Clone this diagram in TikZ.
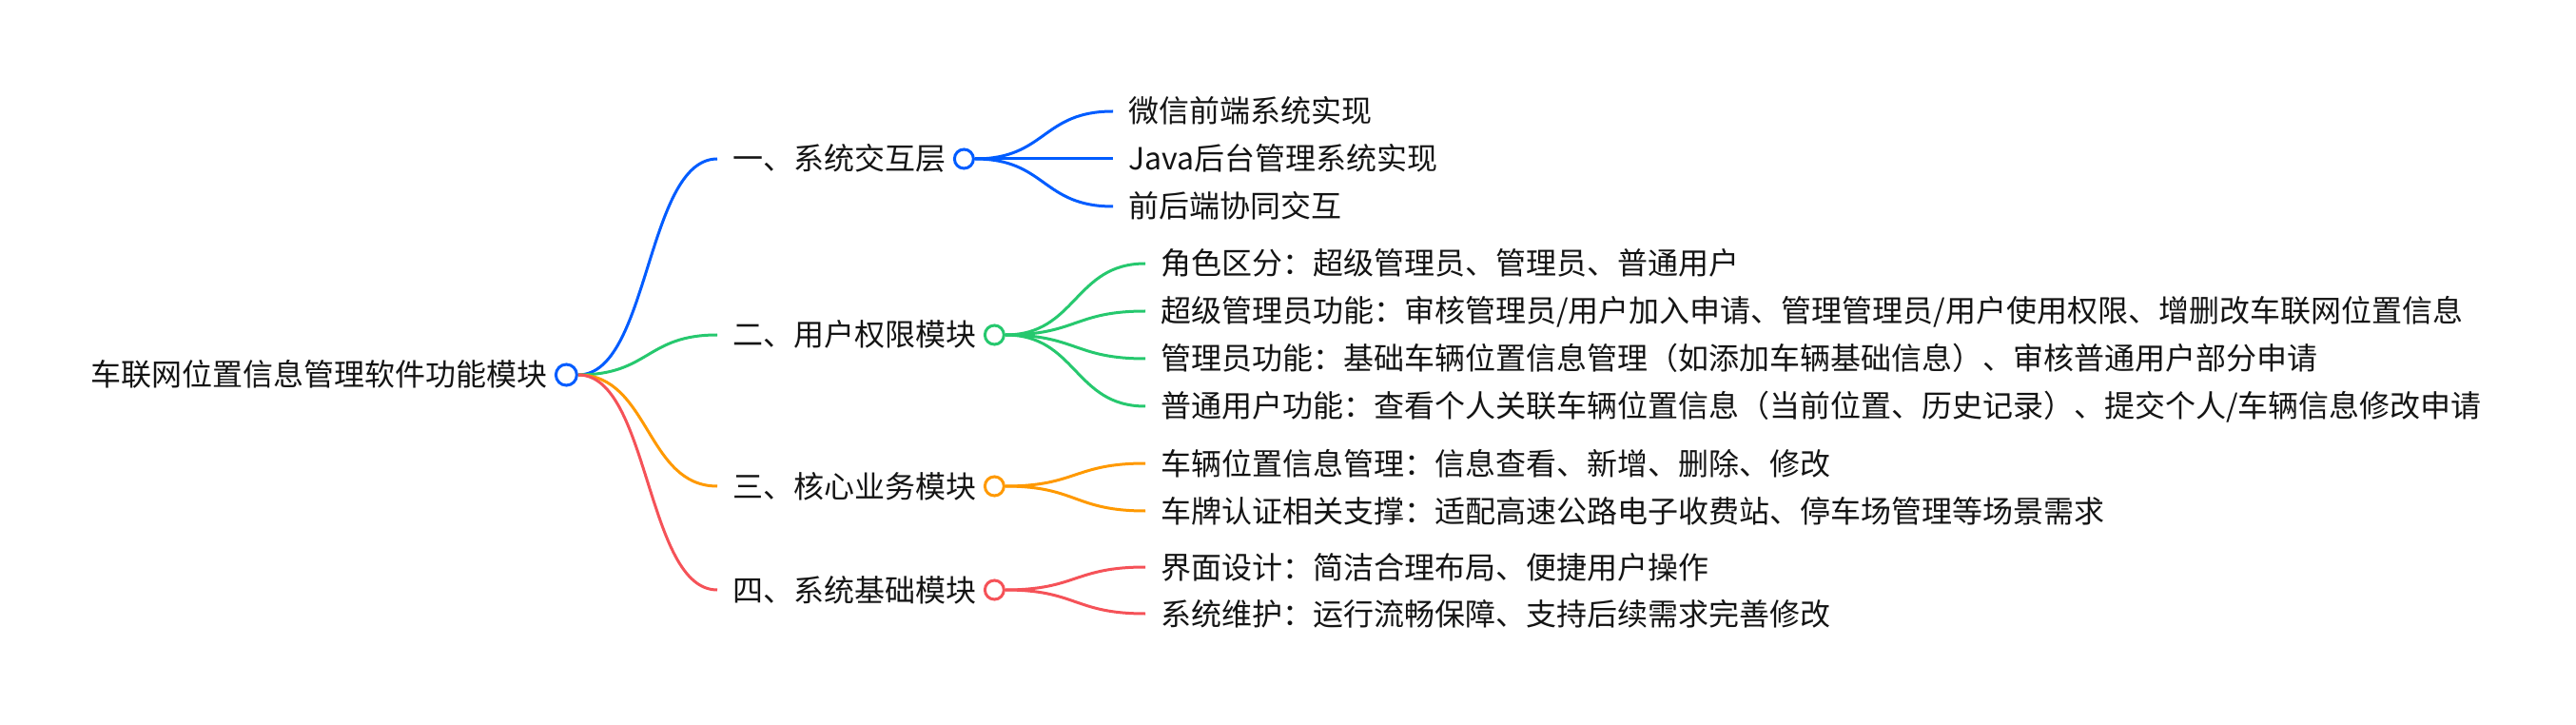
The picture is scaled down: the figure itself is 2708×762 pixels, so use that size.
\documentclass[tikz,border=0pt]{standalone}
\usepackage{fontspec}
\usepackage{tikz}
\usetikzlibrary{positioning}
\newfontfamily\cjk{Noto Sans CJK SC}
\definecolor{lanse}{RGB}{0,92,255}
\definecolor{lvse}{RGB}{38,200,110}
\definecolor{chengse}{RGB}{255,153,0}
\definecolor{hongse}{RGB}{245,82,88}
\definecolor{wenzi}{RGB}{20,20,20}

\begin{document}
\begin{tikzpicture}[x=0.75pt,y=0.75pt,yscale=-1,xscale=1,
  topic/.style={anchor=west,inner sep=0pt,text height=20pt,text depth=2pt,text=wenzi,font=\cjk\fontsize{24pt}{28pt}\selectfont},
  ring/.style={circle,draw=#1,fill=white,line width=2.25pt,minimum size=15pt,inner sep=0pt},
  branch/.style={to path={.. controls +(75,0) and +(-75,0) .. (\tikztotarget)}},
  wire/.style={draw=#1,line width=2.25pt}]
\useasboundingbox (0,0) rectangle (2708,762);

%Root
\node[topic] (root) at (95,394) {车联网位置信息管理软件功能模块};
\node[ring=lanse,minimum size=16.5pt,right=5.5pt of root] (rootdot) {};

%Level one
\node[topic] (jiaohu) at (770,167) {一、系统交互层};
\node[topic] (quanxian) at (770,352) {二、用户权限模块};
\node[topic] (yewu) at (770,511) {三、核心业务模块};
\node[topic] (jichu) at (770,620) {四、系统基础模块};
\node[ring=lanse,right=5.5pt of jiaohu] (jiaohudot) {};
\node[ring=lvse,right=5.5pt of quanxian] (quanxiandot) {};
\node[ring=chengse,right=5.5pt of yewu] (yewudot) {};
\node[ring=hongse,right=5.5pt of jichu] (jichudot) {};

%Level two
\node[topic] (jh1) at (1186,117) {微信前端系统实现};
\node[topic] (jh2) at (1186,167) {Java后台管理系统实现};
\node[topic] (jh3) at (1186,217) {前后端协同交互};
\node[topic] (qx1) at (1220,277) {角色区分：超级管理员、管理员、普通用户};
\node[topic] (qx2) at (1220,327) {超级管理员功能：审核管理员/用户加入申请、管理管理员/用户使用权限、增删改车联网位置信息};
\node[topic] (qx3) at (1220,377) {管理员功能：基础车辆位置信息管理（如添加车辆基础信息）、审核普通用户部分申请};
\node[topic] (qx4) at (1220,427) {普通用户功能：查看个人关联车辆位置信息（当前位置、历史记录）、提交个人/车辆信息修改申请};
\node[topic] (yw1) at (1220,487) {车辆位置信息管理：信息查看、新增、删除、修改};
\node[topic] (yw2) at (1220,537) {车牌认证相关支撑：适配高速公路电子收费站、停车场管理等场景需求};
\node[topic] (jc1) at (1220,596) {界面设计：简洁合理布局、便捷用户操作};
\node[topic] (jc2) at (1220,645) {系统维护：运行流畅保障、支持后续需求完善修改};

%Branches from root
\draw[wire=lanse] (rootdot.east) to[branch] ([xshift=-12pt]jiaohu.west);
\draw[wire=lvse] (rootdot.east) to[branch] ([xshift=-12pt]quanxian.west);
\draw[wire=chengse] (rootdot.east) to[branch] ([xshift=-12pt]yewu.west);
\draw[wire=hongse] (rootdot.east) to[branch] ([xshift=-12pt]jichu.west);

%Branches to leaves
\foreach \leaf in {jh1,jh2,jh3}
  \draw[wire=lanse] (jiaohudot.east) to[branch] ([xshift=-12pt]\leaf.west);
\foreach \leaf in {qx1,qx2,qx3,qx4}
  \draw[wire=lvse] (quanxiandot.east) to[branch] ([xshift=-12pt]\leaf.west);
\foreach \leaf in {yw1,yw2}
  \draw[wire=chengse] (yewudot.east) to[branch] ([xshift=-12pt]\leaf.west);
\foreach \leaf in {jc1,jc2}
  \draw[wire=hongse] (jichudot.east) to[branch] ([xshift=-12pt]\leaf.west);

\end{tikzpicture}
\end{document}
